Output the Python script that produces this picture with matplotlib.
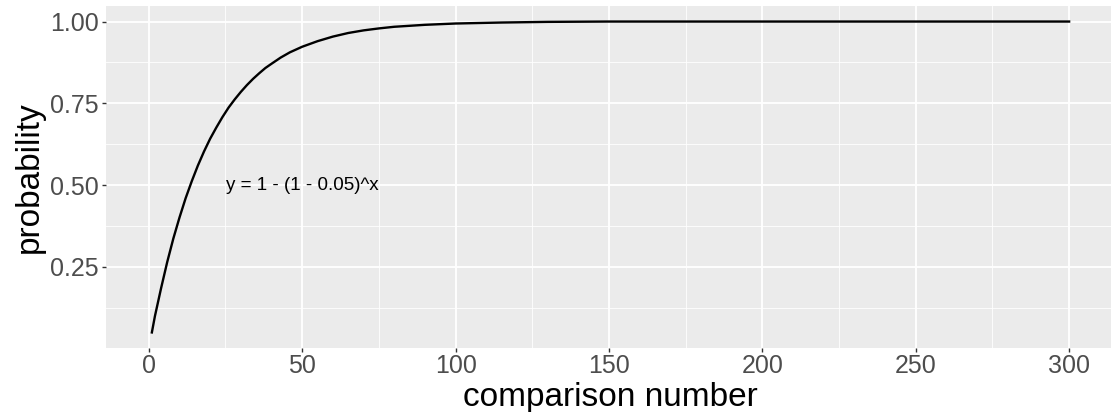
import numpy as np
import matplotlib
matplotlib.use("Agg")
import matplotlib.pyplot as plt

# values
comparison = [1, 2, 4, 6, 8, 10, 12, 14, 16, 18, 20, 22, 24, 26, 28, 30,
              32, 34, 36, 38, 40, 43, 46, 50, 55, 60, 65, 70, 75, 80, 90,
              100, 115, 130, 150, 200, 250, 300]
probability = [0.05, 0.10, 0.185, 0.265, 0.337, 0.401, 0.46, 0.512, 0.56,
               0.603, 0.642, 0.676, 0.708, 0.737, 0.762, 0.785, 0.806, 0.825,
               0.842, 0.858, 0.871, 0.89, 0.906, 0.923, 0.94, 0.954, 0.965,
               0.973, 0.979, 0.984, 0.99, 0.994, 0.997, 0.999, 1.0, 1.0,
               1.0, 1.0]
x_ticks = [0, 50, 100, 150, 200, 250, 300]
y_ticks = [0.25, 0.50, 0.75, 1.00]
label_text = "y = 1 - (1 - 0.05)^x"
label_pos = (50, 0.5)

plt.rcParams['font.family'] = ['Liberation Sans', 'DejaVu Sans']

fig = plt.figure(figsize=(11.11, 4.12), dpi=100)
W, H = 1111, 412
left, right, top, bottom = 106, 1115, 6, 348
ax = fig.add_axes([left / W, 1 - bottom / H, (right - left) / W, (bottom - top) / H])

ax.set_facecolor('#EBEBEB')
for s in ax.spines.values():
    s.set_visible(False)

xr = max(comparison) - min(comparison)
ax.set_xlim(min(comparison) - 0.05 * xr, max(comparison) + 0.05 * xr)
yr = max(probability) - min(probability)
ax.set_ylim(min(probability) - 0.05 * yr, max(probability) + 0.05 * yr)

ax.set_xticks(x_ticks)
ax.set_yticks(y_ticks)
ax.set_yticklabels([f"{v:.2f}" for v in y_ticks])
ax.set_xticks([25, 75, 125, 175, 225, 275], minor=True)
ax.set_yticks([0.125, 0.375, 0.625, 0.875], minor=True)

ax.grid(which='major', color='white', linewidth=1.3)
ax.grid(which='minor', color='white', linewidth=0.6)
ax.set_axisbelow(True)

ax.tick_params(which='major', length=3, width=1, color='#333333',
               labelsize=18, labelcolor='#4D4D4D', pad=2)
ax.tick_params(axis='x', which='major', pad=1)
ax.tick_params(which='minor', length=0)

ax.plot(comparison, probability, color='black', linewidth=1.7,
        solid_joinstyle='round')
ax.text(label_pos[0], label_pos[1], label_text, ha='center', va='center',
        fontsize=13.5, color='black')

ax.set_xlabel("comparison number", fontsize=24, labelpad=3)
ax.set_ylabel("probability", fontsize=24, labelpad=4)

fig.savefig("out.png", dpi=100)
